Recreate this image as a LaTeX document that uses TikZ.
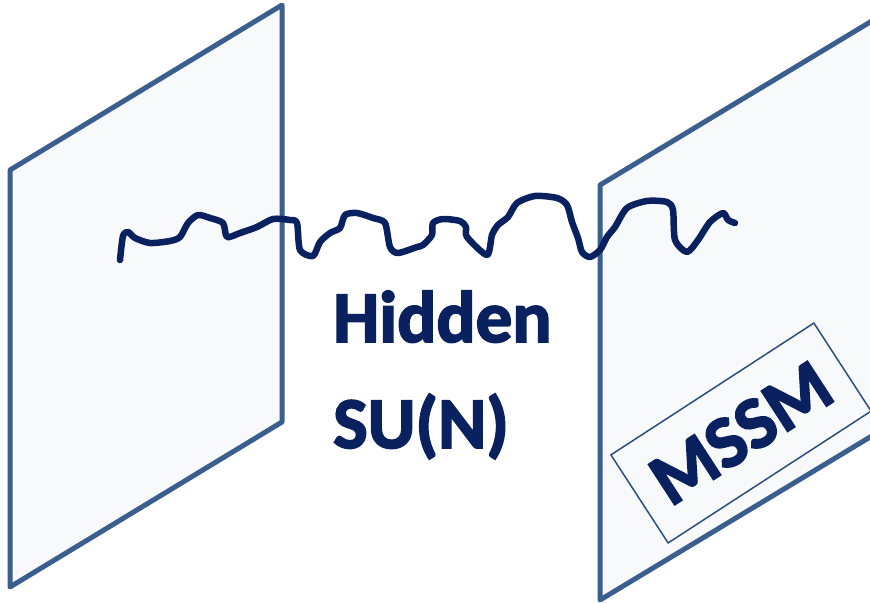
\documentclass[tikz,border=0pt]{standalone}
\usepackage{fontspec}
\setmainfont{Carlito}
\definecolor{planeedge}{HTML}{3A5F8E}
\definecolor{planefill}{HTML}{F7F9FB}
\definecolor{navy}{HTML}{0A2160}
\definecolor{boxedge}{HTML}{2C4F7E}
\newcommand{\heavytext}[1]{\special{pdf:literal direct 2 Tr 1.8 w}#1\special{pdf:literal direct 0 Tr}}
\tikzset{
  plane/.style={draw=planeedge, fill=planefill, line width=5pt, line join=round},
  bigtext/.style={text=navy, font=\fontsize{73}{86}\selectfont\bfseries, inner sep=0pt},
  wiggle/.style={draw=navy, line width=6.5pt, line join=round, line cap=round},
  mssmbox/.style={draw=boxedge, line width=1.5pt, rotate=33, minimum width=242pt, minimum height=105pt, inner sep=0pt, text=navy, font=\fontsize{74}{86}\selectfont\bfseries}
}
\begin{document}
\begin{tikzpicture}[x=1pt,y=-1pt]
\useasboundingbox (0,0) rectangle (870,604);
\clip (0,0) rectangle (870,604);
% left plane
\draw[plane] (10,170) -- (282,5) -- (282,422) -- (10,587) -- cycle;
% right plane
\draw[plane] (600,185) -- (900,4) -- (900,419) -- (600,600) -- cycle;
% MSSM box
\node[mssmbox] (mssm) at (741,433) {\heavytext{MSSM}};
% text
\node[bigtext, anchor=base west] (hidden) at (333,342) {\heavytext{Hidden}};
\node[bigtext, anchor=base west] (sun) at (333,448) {\heavytext{SU(N)}};
% wiggly string
\draw[wiggle] plot[smooth, tension=0.45] coordinates {
(120,260) (123,236) (128,232) (135,238) (150,243) (170,241) (180,237)
(188,223) (198,215) (210,218) (223,223) (227,237) (240,233) (257,227)
(273,219) (290,220) (297,223) (300,250) (313,256) (320,242) (330,233)
(340,228) (345,215) (357,213) (373,218) (385,223) (390,247) (398,253)
(417,247) (423,245) (432,235) (433,223) (443,219) (460,221) (466,227)
(467,237) (487,255) (492,235) (498,225) (508,217) (517,203) (535,196)
(557,198) (567,205) (572,222) (578,238) (582,252) (590,257) (600,250)
(607,237) (615,227) (627,208) (647,201) (667,202) (673,210) (675,240)
(687,252) (698,240) (710,222) (723,213) (728,220) (735,223)};
\end{tikzpicture}
\end{document}
